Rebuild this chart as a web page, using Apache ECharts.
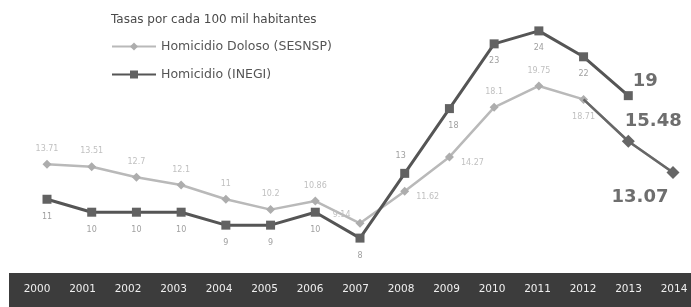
<!DOCTYPE html>
<html>
<head>
<meta charset="utf-8">
<script src="https://cdn.jsdelivr.net/npm/echarts@6/dist/echarts.min.js"></script>
<style>
  html, body { margin: 0; padding: 0; background: #fff; }
  #chart { width: 691px; height: 307px; }
</style>
</head>
<body>
<div id="chart"></div>
<script>
// datos
const years = ['2000', '2001', '2002', '2003', '2004', '2005', '2006', '2007',
  '2008', '2009', '2010', '2011', '2012', '2013', '2014'];
const sesnsp = [13.71, 13.51, 12.7, 12.1, 11, 10.2, 10.86, 9.14,
  11.62, 14.27, 18.1, 19.75, 18.71, 15.48, 13.07];
const inegi = [11, 10, 10, 10, 9, 9, 10, 8, 13, 18, 23, 24, 22, 19];

const LIGHT = '#b9b9b9';
const DARK = '#555555';
const font = '"DejaVu Sans", "Liberation Sans", sans-serif';

// los dos ultimos anos del SESNSP van en gris oscuro
const tailFrom = 12;
const tail = sesnsp.map((v, i) => i >= tailFrom ? v : '-');

// posiciones especiales de etiquetas
const sesnspLabel = {
  7: { position: 'left', offset: [2, -8] },
  8: { position: 'right', offset: [0, 6] },
  9: { position: 'right', offset: [0, 6] },
  12: { position: 'bottom', offset: [0, 2] }
};
const big = { fontSize: 18, fontWeight: 'bold', color: '#6e6e6e', fontFamily: font };
const inegiLabel = {
  8: { position: 'top', offset: [-4, 0] },
  9: { position: 'bottom', offset: [4, 0] },
  13: Object.assign({ position: 'right', offset: [-9, -14] }, big)
};
const tailLabel = {
  13: Object.assign({ position: 'right', offset: [-15, -20] }, big),
  14: Object.assign({ position: 'bottom', offset: [-33, 4] }, big)
};

const chart = echarts.init(document.getElementById('chart'));
chart.setOption({
  animation: false,
  textStyle: { fontFamily: font },
  title: {
    text: 'Tasas por cada 100 mil habitantes',
    left: 106, top: 9,
    textStyle: { fontSize: 12, fontWeight: 'normal', color: '#4a4a4a', fontFamily: font }
  },
  legend: {
    orient: 'vertical',
    left: 106, top: 35,
    itemWidth: 44, itemHeight: 10, itemGap: 15,
    textStyle: { fontSize: 12.5, color: '#555', fontFamily: font },
    data: ['Homicidio Doloso (SESNSP)', 'Homicidio (INEGI)']
  },
  graphic: [
    { type: 'rect', left: 9, top: 273, shape: { width: 682, height: 34 }, style: { fill: '#3c3c3c' }, z: -1 }
  ],
  grid: [
    { left: 47, right: 18, top: 5, bottom: 43 },
    { left: 37, right: 17, top: 273, height: 0 }
  ],
  xAxis: [
    { type: 'category', gridIndex: 0, data: years, boundaryGap: false, show: false },
    {
      type: 'category', gridIndex: 1, data: years, boundaryGap: false, position: 'top',
      axisLine: { show: false }, axisTick: { show: false },
      axisLabel: { inside: true, margin: 11, color: '#efefef', fontSize: 10.5, fontFamily: font }
    }
  ],
  yAxis: [
    { type: 'value', gridIndex: 0, min: 6, max: 26, show: false },
    { type: 'value', gridIndex: 1, show: false }
  ],
  series: [
    {
      name: 'Homicidio Doloso (SESNSP)',
      type: 'line',
      data: sesnsp.map((v, i) => {
        if (i > tailFrom) return { value: v, symbol: 'none', label: { show: false } };
        return { value: v, label: sesnspLabel[i] || {} };
      }),
      symbol: 'diamond', symbolSize: 9,
      color: LIGHT,
      lineStyle: { width: 2.5, color: LIGHT },
      itemStyle: { color: '#adadad' },
      label: { show: true, position: 'top', distance: 7, fontSize: 8, color: '#c0c0c0' },
      z: 2
    },
    {
      name: 'Homicidio (INEGI)',
      type: 'line',
      data: inegi.map((v, i) => ({ value: v, label: inegiLabel[i] || {} })),
      symbol: 'rect', symbolSize: 9,
      color: DARK,
      lineStyle: { width: 3, color: DARK },
      itemStyle: { color: '#626262' },
      label: { show: true, position: 'bottom', distance: 9, fontSize: 8, color: '#a0a0a0' },
      z: 3
    },
    {
      name: 'tail',
      type: 'line',
      data: tail.map((v, i) => {
        if (i === tailFrom) return { value: v, symbol: 'none' };
        return { value: v, label: tailLabel[i] ? Object.assign({ show: true }, tailLabel[i]) : {} };
      }),
      symbol: 'diamond', symbolSize: 13,
      lineStyle: { width: 2.5, color: '#676767' },
      itemStyle: { color: '#666' },
      label: { show: false },
      z: 4
    }
  ]
});
</script>
</body>
</html>
